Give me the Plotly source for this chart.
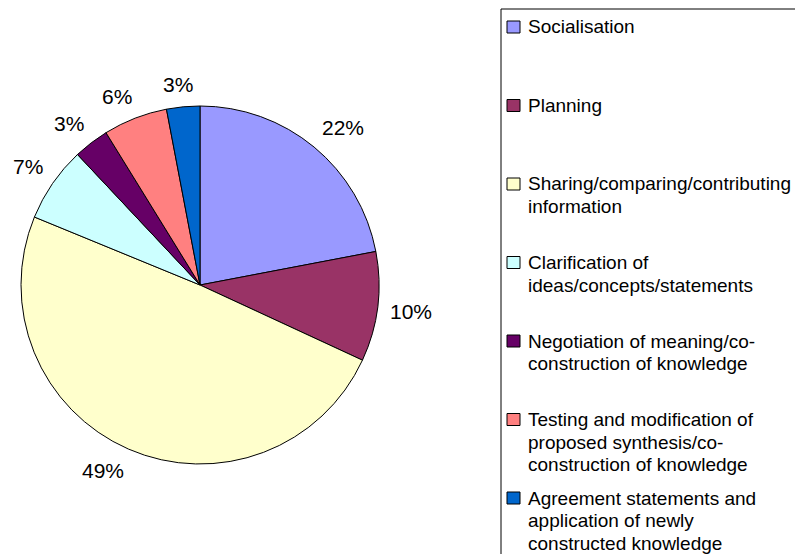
import math
import plotly.graph_objects as go

categories = [
    "Socialisation",
    "Planning",
    "Sharing/comparing/contributing information",
    "Clarification of ideas/concepts/statements",
    "Negotiation of meaning/co-construction of knowledge",
    "Testing and modification of proposed synthesis/co-construction of knowledge",
    "Agreement statements and application of newly constructed knowledge",
]
legend_lines = [
    ["Socialisation"],
    ["Planning"],
    ["Sharing/comparing/contributing", "information"],
    ["Clarification of", "ideas/concepts/statements"],
    ["Negotiation of meaning/co-", "construction of knowledge"],
    ["Testing and modification of", "proposed synthesis/co-", "construction of knowledge"],
    ["Agreement statements and", "application of newly", "constructed knowledge"],
]
values = [22.0, 9.9, 49.3, 6.8, 3.2, 5.8, 3.0]
colors = ["#9999FF", "#993366", "#FFFFCC", "#CCFFFF", "#660066", "#FF8080", "#0066CC"]

# page body has an 8px margin; figure sized so it fits the 803x554 window
OFF = 8
W, H = 803 - OFF, 554 - OFF
FONT = "Liberation Sans, Arial, sans-serif"


def px(x):
    return (x - OFF) / W


def py(y):
    return 1 - (y - OFF) / H


cx, cy, r = 200, 285, 179

fig = go.Figure()
fig.add_trace(go.Pie(
    labels=categories, values=values, sort=False, direction="clockwise", rotation=0,
    marker=dict(colors=colors, line=dict(color="black", width=1)),
    textinfo="none", showlegend=False, hoverinfo="label+percent",
    domain=dict(x=[px(cx - r), px(cx + r)], y=[py(cy + r), py(cy - r)]),
))

annotations = []
# percentage labels outside the slices
total = sum(values)
cum = 0.0
LAB_FS = 21
for v in values:
    pct = round(100 * v / total)
    txt = f"{pct}%"
    theta = 2 * math.pi * (cum + v / 2) / total
    cum += v
    s, c = math.sin(theta), -math.cos(theta)
    w = (0.556 * len(str(pct)) + 0.889) * LAB_FS
    h = 20
    R = r + 12
    lx = cx + R * s + max(-1, min(1, 2.5 * s)) * w / 2
    ly = cy + R * c + max(-1, min(1, 2.5 * c)) * h / 2
    annotations.append(dict(xref="paper", yref="paper", x=px(lx), y=py(ly),
                            xanchor="center", yanchor="middle", text=txt, showarrow=False,
                            font=dict(family=FONT, size=LAB_FS, color="black")))

shapes = [dict(type="rect", xref="paper", yref="paper",
               x0=px(501), x1=px(830), y0=py(9), y1=py(580),
               line=dict(color="black", width=1), fillcolor="rgba(0,0,0,0)")]
for k, lines in enumerate(legend_lines):
    yc = 27 + 78.5 * k
    shapes.append(dict(type="rect", xref="paper", yref="paper",
                       x0=px(507), x1=px(520), y0=py(yc + 6), y1=py(yc - 6),
                       line=dict(color="black", width=1), fillcolor=colors[k]))
    for i, t in enumerate(lines):
        annotations.append(dict(xref="paper", yref="paper", x=px(526), y=py(yc + 22.5 * i),
                                xanchor="left", yanchor="middle", text=t, showarrow=False,
                                font=dict(family=FONT, size=19, color="black")))

fig.update_layout(
    width=W, height=H, margin=dict(l=0, r=0, t=0, b=0),
    paper_bgcolor="white", plot_bgcolor="white",
    shapes=shapes, annotations=annotations,
    font=dict(family=FONT),
)
fig.write_html("out.html")
